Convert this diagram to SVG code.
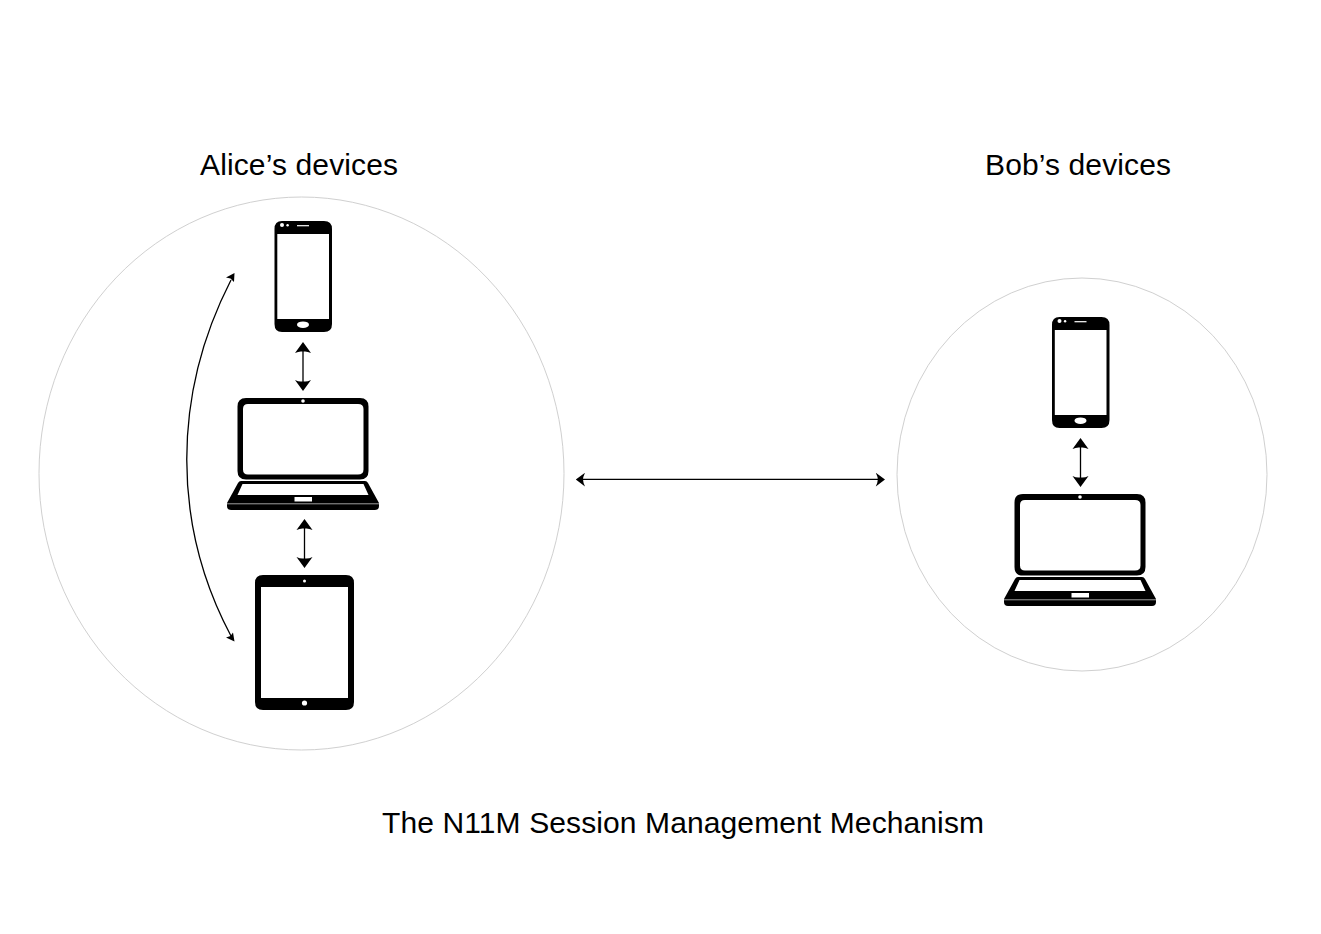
<svg xmlns="http://www.w3.org/2000/svg" width="1321" height="934" viewBox="0 0 1321 934">
<style>
.t{font-family:"Liberation Sans",Arial,sans-serif;font-size:30px;fill:#000}
.c{fill:#fff;stroke:#d0d0d0;stroke-width:1}
.l{fill:none;stroke:#000;stroke-width:1.300}
.h{fill:#000}
.w{fill:#fff}
</style>
<defs>
<g id="phone">
<path fill-rule="evenodd" class="h" d="M282 221H324Q332 221 332 229V324Q332 332 324 332H282Q274.500 332 274.500 324V229Q274.500 221 282 221ZM277.300 234V319H329V234Z"/>
<path d="M297 225.700H309" stroke="#fff" stroke-width="1.200" fill="none"/>
<circle cx="282" cy="225" r="2" class="w"/><circle cx="287.600" cy="225.300" r="1.200" class="w"/>
<ellipse cx="303" cy="324.700" rx="6" ry="3.300" class="w"/>
</g>
<g id="laptop">
<path fill-rule="evenodd" class="h" d="M246 398H360Q368.500 398 368.500 406.500V471Q368.500 479.500 360 479.500H246Q237.500 479.500 237.500 471V406.500Q237.500 398 246 398ZM248 404Q243 404 243 409V469.500Q243 474.500 248 474.500H358Q363.500 474.500 363.500 469.500V409Q363.500 404 358 404Z"/>
<circle cx="303" cy="401" r="1.800" class="w"/>
<path fill-rule="evenodd" class="h" d="M241 481H365Q367 481 368 483L379 503V506Q379 510 375 510H231Q227 510 227 506V503L238 483Q239 481 241 481ZM242.500 484L237.500 495H368.500L363.500 484ZM294.500 497V501.500H312V497Z"/>
<path d="M227 503.800H379" stroke="#c8c8c8" stroke-width=".8" fill="none"/>
</g>
<path id="up" class="h" d="M0 0L8 11Q4 9 0.700 9.500H-0.700Q-4 9 -8 11Z"/>
<path id="down" class="h" d="M0 0L8 -11Q4 -9 0.700 -9.500H-0.700Q-4 -9 -8 -11Z"/>
</defs>
<g id="alice-label"><text class="t" x="200" y="175" textLength="198">Alice’s devices</text></g>
<g id="bob-label"><text class="t" x="985" y="175" textLength="186">Bob’s devices</text></g>
<g id="title"><text class="t" x="382" y="833" textLength="602">The N11M Session Management Mechanism</text></g>
<g id="alice-group"><ellipse class="c" cx="301.500" cy="473.500" rx="262.500" ry="276.500"/></g>
<g id="bob-group"><ellipse class="c" cx="1082" cy="474.500" rx="185" ry="196.500"/></g>
<g id="alice-phone"><use href="#phone"/></g>
<g id="alice-laptop"><use href="#laptop"/></g>
<g id="alice-tablet">
<path fill-rule="evenodd" class="h" d="M263 575H346Q354 575 354 583V702Q354 710 346 710H263Q255 710 255 702V583Q255 575 263 575ZM261 587V698H348V587Z"/>
<circle cx="304.500" cy="581" r="1.500" class="w"/><circle cx="304.500" cy="703" r="2.600" class="w"/>
</g>
<g id="bob-phone"><use href="#phone" x="777.500" y="96"/></g>
<g id="bob-laptop"><use href="#laptop" x="777" y="96"/></g>
<g id="connectors">
<path class="l" d="M303 350V384M304.500 527V561M1080.500 446V480"/>
<use href="#up" x="303" y="342"/><use href="#down" x="303" y="391"/>
<use href="#up" x="304.500" y="519"/><use href="#down" x="304.500" y="568"/>
<use href="#up" x="1080.500" y="438"/><use href="#down" x="1080.500" y="487"/>
<path class="l" d="M231 280C172 395 172 525 231 636"/>
<path class="h" d="M234.500 273L226 277.500L230.500 278.500L234 282ZM234.500 641.500L226 637.500L230.500 636L233 632.500Z"/>
<path class="l" d="M582 479.400H879"/>
<path class="h" d="M575.800 479.400L585 472.800Q583 477 583 479.400Q583 482 585 486.500ZM885 479.400L875.800 472.800Q877.800 477 877.800 479.400Q877.800 482 875.800 486.500Z"/>
</g>
</svg>
